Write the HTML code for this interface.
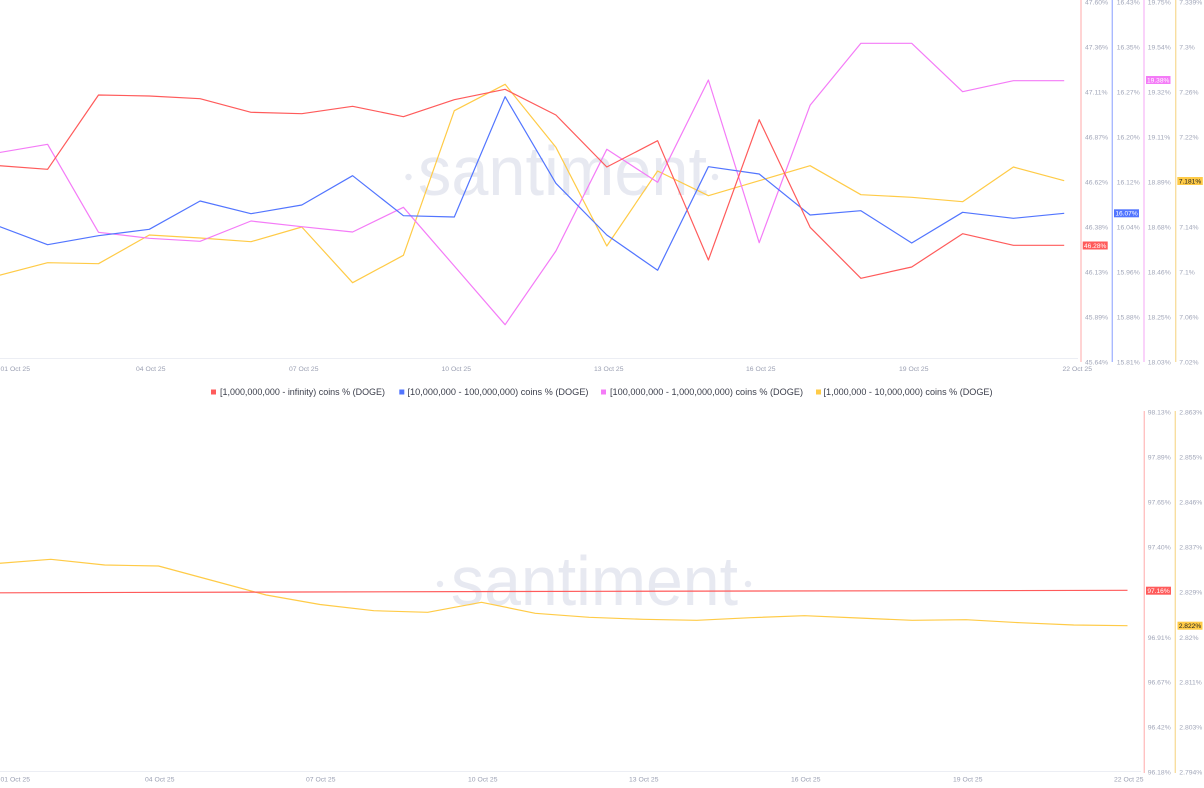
<!DOCTYPE html>
<html><head><meta charset="utf-8"><style>
html,body{margin:0;padding:0;background:#fff;}
svg{display:block;font-family:"Liberation Sans",sans-serif;}
.ax{font-size:6.8px;fill:#a2a7b9;}
.xl{font-size:6.8px;fill:#9a9fb2;}
.lg{font-size:9px;fill:#3b3e4b;}
.bd{font-size:6.6px;}
.wm{font-size:70px;fill:#e7e9f1;}
</style></head><body>
<svg width="1204" height="788" viewBox="0 0 1204 788" xmlns="http://www.w3.org/2000/svg">
<rect width="1204" height="788" fill="#fff"/>

<!-- watermarks -->
<text class="wm" x="418" y="195" textLength="289" lengthAdjust="spacingAndGlyphs">santiment</text>
<circle cx="408.5" cy="177" r="3.2" fill="#e7e9f1"/>
<circle cx="715" cy="177" r="3.2" fill="#e7e9f1"/>
<text class="wm" x="451" y="605" textLength="287" lengthAdjust="spacingAndGlyphs">santiment</text>
<circle cx="440" cy="584" r="3.2" fill="#e7e9f1"/>
<circle cx="748" cy="584" r="3.2" fill="#e7e9f1"/>

<!-- top x axis -->
<line x1="0" y1="358.5" x2="1078" y2="358.5" stroke="#eceef4" stroke-width="1"/>
<g class="xl">
<text x="0.5" y="371">01 Oct 25</text>
<text x="136" y="371">04 Oct 25</text>
<text x="289" y="371">07 Oct 25</text>
<text x="441.5" y="371">10 Oct 25</text>
<text x="594" y="371">13 Oct 25</text>
<text x="746" y="371">16 Oct 25</text>
<text x="899" y="371">19 Oct 25</text>
<text x="1062.5" y="371">22 Oct 25</text>
</g>

<!-- top right axes -->
<line x1="1081" y1="0" x2="1081" y2="362" stroke="#ffc2c2" stroke-width="1.4"/>
<line x1="1112.3" y1="0" x2="1112.3" y2="362" stroke="#a9b9ff" stroke-width="1.4"/>
<line x1="1144" y1="0" x2="1144" y2="362" stroke="#f7c0f7" stroke-width="1.4"/>
<line x1="1175.7" y1="0" x2="1175.7" y2="362" stroke="#f8dea0" stroke-width="1.4"/>
<g class="ax">
<text x="1085" y="4.4">47.60%</text><text x="1085" y="49.4">47.36%</text><text x="1085" y="94.4">47.11%</text><text x="1085" y="139.4">46.87%</text><text x="1085" y="184.4">46.62%</text><text x="1085" y="229.4">46.38%</text><text x="1085" y="274.4">46.13%</text><text x="1085" y="319.4">45.89%</text><text x="1085" y="364.4">45.64%</text>
<text x="1116.7" y="4.4">16.43%</text><text x="1116.7" y="49.4">16.35%</text><text x="1116.7" y="94.4">16.27%</text><text x="1116.7" y="139.4">16.20%</text><text x="1116.7" y="184.4">16.12%</text><text x="1116.7" y="229.4">16.04%</text><text x="1116.7" y="274.4">15.96%</text><text x="1116.7" y="319.4">15.88%</text><text x="1116.7" y="364.4">15.81%</text>
<text x="1147.7" y="4.4">19.75%</text><text x="1147.7" y="49.4">19.54%</text><text x="1147.7" y="94.4">19.32%</text><text x="1147.7" y="139.4">19.11%</text><text x="1147.7" y="184.4">18.89%</text><text x="1147.7" y="229.4">18.68%</text><text x="1147.7" y="274.4">18.46%</text><text x="1147.7" y="319.4">18.25%</text><text x="1147.7" y="364.4">18.03%</text>
<text x="1179.3" y="4.4">7.339%</text><text x="1179.3" y="49.4">7.3%</text><text x="1179.3" y="94.4">7.26%</text><text x="1179.3" y="139.4">7.22%</text><text x="1179.3" y="229.4">7.14%</text><text x="1179.3" y="274.4">7.1%</text><text x="1179.3" y="319.4">7.06%</text><text x="1179.3" y="364.4">7.02%</text>
</g>

<!-- top series -->
<g fill="none" stroke-width="1.2" stroke-linejoin="round">
<polyline stroke="#FFCB47" points="-3.2,276 47.6,262.7 98.5,263.7 149.3,235 200.1,238 251,241.7 301.8,227 352.6,282.7 403.4,255.3 454.3,110.7 505.1,84.3 555.9,147.3 606.8,246 657.6,171 708.4,195.7 759.2,180.7 810.1,165.7 860.9,194.7 911.7,197.3 962.6,201.7 1013.4,167 1064.2,180.7"/>
<polyline stroke="#F47BF7" points="-3.2,153 47.6,144.3 98.5,232.3 149.3,238.3 200.1,241.3 251,221 301.8,226.7 352.6,232 403.4,207.3 454.3,266 505.1,324.7 555.9,251 606.8,149.3 657.6,182.3 708.4,80 759.2,242.7 810.1,105.3 860.9,43.3 911.7,43.3 962.6,91.7 1013.4,80.7 1064.2,80.7"/>
<polyline stroke="#5275FF" points="-3.2,225.5 47.6,244.7 98.5,235.7 149.3,229.3 200.1,201 251,213.7 301.8,205 352.6,175.7 403.4,215.7 454.3,217 505.1,96.7 555.9,183.3 606.8,235 657.6,270.3 708.4,166.7 759.2,174 810.1,215 860.9,210.7 911.7,243 962.6,212.3 1013.4,218.3 1064.2,213.3"/>
<polyline stroke="#FF5B5B" points="-3.2,165.5 47.6,169.3 98.5,95 149.3,96 200.1,98.7 251,112.3 301.8,113.7 352.6,106.3 403.4,116.7 454.3,99.7 505.1,89.3 555.9,115 606.8,167 657.6,140.7 708.4,260 759.2,119.7 810.1,227.3 860.9,278.3 911.7,267 962.6,233.7 1013.4,245.3 1064.2,245.3"/>
</g>

<!-- top badges -->
<rect x="1082.7" y="241.5" width="25" height="8" fill="#FF5B5B"/>
<text class="bd" x="1095.2" y="247.8" fill="#fff" text-anchor="middle">46.28%</text>
<rect x="1114" y="209.3" width="25" height="8" fill="#5275FF"/>
<text class="bd" x="1126.5" y="215.6" fill="#fff" text-anchor="middle">16.07%</text>
<rect x="1146" y="76" width="24.5" height="8" fill="#F47BF7"/>
<text class="bd" x="1158.2" y="82.3" fill="#fff" text-anchor="middle">19.38%</text>
<rect x="1177.3" y="177" width="25.5" height="8" fill="#FFCB47"/>
<text class="bd" x="1190" y="183.3" fill="#222" text-anchor="middle">7.181%</text>

<!-- legend -->
<rect x="211" y="389.5" width="5" height="5" fill="#FF5B5B"/>
<text class="lg" x="220" y="395" textLength="165" lengthAdjust="spacingAndGlyphs">[1,000,000,000 - infinity) coins % (DOGE)</text>
<rect x="399.3" y="389.5" width="5" height="5" fill="#5275FF"/>
<text class="lg" x="407.5" y="395" textLength="181" lengthAdjust="spacingAndGlyphs">[10,000,000 - 100,000,000) coins % (DOGE)</text>
<rect x="601" y="389.5" width="5" height="5" fill="#F47BF7"/>
<text class="lg" x="610" y="395" textLength="193" lengthAdjust="spacingAndGlyphs">[100,000,000 - 1,000,000,000) coins % (DOGE)</text>
<rect x="816" y="389.5" width="5" height="5" fill="#FFCB47"/>
<text class="lg" x="823.5" y="395" textLength="169" lengthAdjust="spacingAndGlyphs">[1,000,000 - 10,000,000) coins % (DOGE)</text>

<!-- bottom x axis -->
<line x1="0" y1="771.5" x2="1141" y2="771.5" stroke="#eceef4" stroke-width="1"/>
<g class="xl">
<text x="0.5" y="781.5">01 Oct 25</text>
<text x="145" y="781.5">04 Oct 25</text>
<text x="306" y="781.5">07 Oct 25</text>
<text x="468" y="781.5">10 Oct 25</text>
<text x="629" y="781.5">13 Oct 25</text>
<text x="791" y="781.5">16 Oct 25</text>
<text x="953" y="781.5">19 Oct 25</text>
<text x="1114" y="781.5">22 Oct 25</text>
</g>

<!-- bottom right axes -->
<line x1="1144.3" y1="411" x2="1144.3" y2="773" stroke="#ffc2c2" stroke-width="1.4"/>
<line x1="1175.3" y1="411" x2="1175.3" y2="773" stroke="#f8dea0" stroke-width="1.4"/>
<g class="ax">
<text x="1147.7" y="414.4">98.13%</text><text x="1147.7" y="459.4">97.89%</text><text x="1147.7" y="504.4">97.65%</text><text x="1147.7" y="549.4">97.40%</text><text x="1147.7" y="639.8">96.91%</text><text x="1147.7" y="684.6">96.67%</text><text x="1147.7" y="729.4">96.42%</text><text x="1147.7" y="774.4">96.18%</text>
<text x="1179.3" y="414.4">2.863%</text><text x="1179.3" y="459.4">2.855%</text><text x="1179.3" y="504.4">2.846%</text><text x="1179.3" y="549.4">2.837%</text><text x="1179.3" y="594.4">2.829%</text><text x="1179.3" y="639.8">2.82%</text><text x="1179.3" y="684.6">2.811%</text><text x="1179.3" y="729.4">2.803%</text><text x="1179.3" y="774.4">2.794%</text>
</g>

<!-- bottom series -->
<g fill="none" stroke-width="1.2" stroke-linejoin="round">
<polyline stroke="#FFCB47" points="-3,563.5 50.8,559.3 104.7,565 158.5,566 212.3,580.5 266.2,595 320,604.5 373.8,610.7 427.7,612.3 481.5,602.3 535.3,613.3 589.2,617.3 643,619.3 696.8,620.3 750.7,617.7 804.5,615.7 858.3,618 912.2,620.3 966,619.7 1019.8,622.7 1073.7,625 1127.5,625.7"/>
<polyline stroke="#FF5B5B" points="-3,592.8 300,592 600,591.3 900,590.8 1127.5,590.3"/>
</g>

<!-- bottom badges -->
<rect x="1146" y="586.7" width="25" height="8" fill="#FF5B5B"/>
<text class="bd" x="1158.5" y="593" fill="#fff" text-anchor="middle">97.16%</text>
<rect x="1177.5" y="621.7" width="25" height="8" fill="#FFCB47"/>
<text class="bd" x="1190" y="628" fill="#222" text-anchor="middle">2.822%</text>
</svg>
</body></html>
